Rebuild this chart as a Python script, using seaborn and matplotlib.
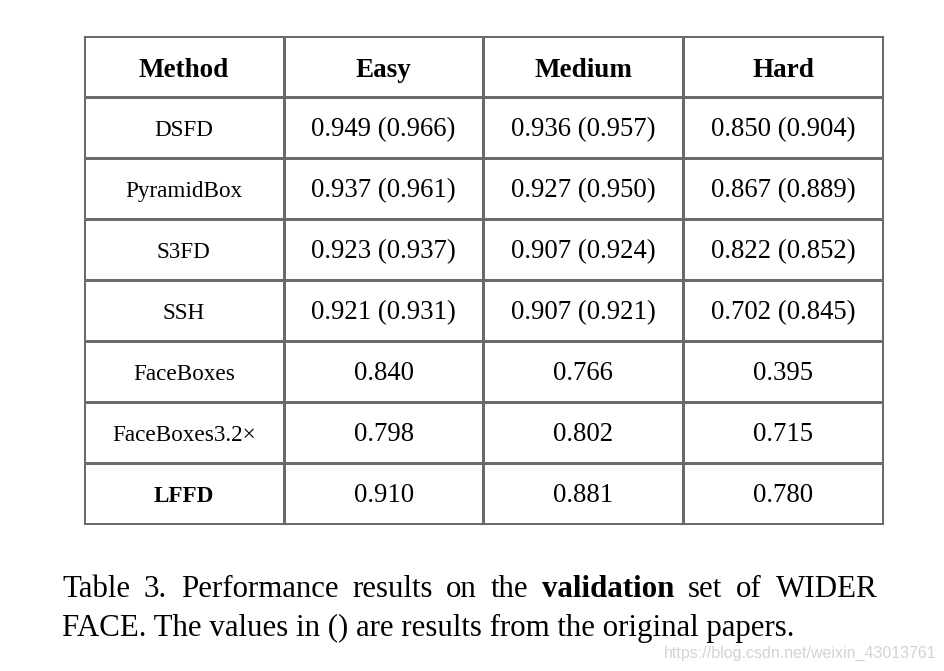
import matplotlib
matplotlib.use("Agg")
import matplotlib.pyplot as plt
from matplotlib.colors import ListedColormap
import numpy as np
import seaborn as sns

methods = ["DSFD", "PyramidBox", "S3FD", "SSH", "FaceBoxes", "FaceBoxes3.2\u00d7", "LFFD"]
columns = ["Method", "Easy", "Medium", "Hard"]
easy = [0.949, 0.937, 0.923, 0.921, 0.840, 0.798, 0.910]
medium = [0.936, 0.927, 0.907, 0.907, 0.766, 0.802, 0.881]
hard = [0.850, 0.867, 0.822, 0.702, 0.395, 0.715, 0.780]
easy_orig = [0.966, 0.961, 0.937, 0.931, None, None, None]
medium_orig = [0.957, 0.950, 0.924, 0.921, None, None, None]
hard_orig = [0.904, 0.889, 0.852, 0.845, None, None, None]
bold_methods = ["LFFD"]

caption_line1 = ["Table", "3.", "Performance", "results", "on", "the", "validation", "set", "of", "WIDER"]
caption_bold = ["validation"]
caption_line2 = "FACE. The values in () are results from the original papers."
watermark = "https://blog.csdn.net/weixin_43013761"

sns.set_style("white")
plt.rcParams["font.family"] = ["Liberation Serif", "DejaVu Serif"]
plt.rcParams["text.color"] = "black"

W, H = 945, 671
fig = plt.figure(figsize=(W / 100, H / 100), dpi=100)
fig.patch.set_facecolor("white")

# table axes (pixel bounds of the grid)
x0, x1, y0, y1 = 84, 883, 36, 524
row_px = (y1 - y0) / 8.0
ax = fig.add_axes([x0 / W, 1 - y1 / H, (x1 - x0) / W, (y1 - y0) / H])
nrows = len(methods) + 1
grid = np.zeros((nrows, len(columns)))
line_col = "#6a6a6a"
sns.heatmap(grid, ax=ax, cmap=ListedColormap(["white"]), cbar=False,
            linewidths=0.75, linecolor=line_col, xticklabels=False, yticklabels=False)
for s in ax.spines.values():
    s.set_visible(True)
    s.set_color(line_col)
    s.set_linewidth(0.75)


def fmt(v, o):
    return f"{v:.3f}" if o is None else f"{v:.3f} ({o:.3f})"

hdr_off = 10.5 / row_px
body_off = 8.8 / row_px
for j, c in enumerate(columns):
    ax.text(j + 0.5, 0.5 + hdr_off, c, ha="center", va="baseline", fontsize=19.5,
            fontweight="bold", color="black")

for i, m in enumerate(methods):
    r = i + 1.5 + body_off
    ax.text(0.5, r, m, ha="center", va="baseline", fontsize=16.7,
            fontweight="bold" if m in bold_methods else "normal", color="black")
    for j, (vals, origs) in enumerate([(easy, easy_orig), (medium, medium_orig), (hard, hard_orig)]):
        ax.text(j + 1.5, r, fmt(vals[i], origs[i]), ha="center", va="baseline",
                fontsize=19.3, color="black")

# caption
cap_size = 22.2
fig.canvas.draw()
renderer = fig.canvas.get_renderer()
left_px, right_px = 62, 877
base1, base2 = 597, 636

texts = []
widths = []
for w in caption_line1:
    t = fig.text(0, 1 - base1 / H, w, fontsize=cap_size, va="baseline", ha="left", color="black",
                 fontweight="bold" if w in caption_bold else "normal")
    texts.append(t)
    widths.append(t.get_window_extent(renderer).width)
gap = (right_px - left_px - sum(widths)) / (len(caption_line1) - 1)
x = left_px
for t, wdt in zip(texts, widths):
    t.set_x(x / W)
    x += wdt + gap

fig.text(left_px / W, 1 - base2 / H, caption_line2, fontsize=cap_size, va="baseline",
         ha="left", color="black")

fig.text(937 / W, 1 - 653 / H, watermark, fontsize=11.5, ha="right", va="center",
         color="#d3d3d3", family=["Liberation Sans Narrow", "Liberation Sans", "DejaVu Sans"])

fig.savefig("out.png", dpi=100, facecolor="white")
